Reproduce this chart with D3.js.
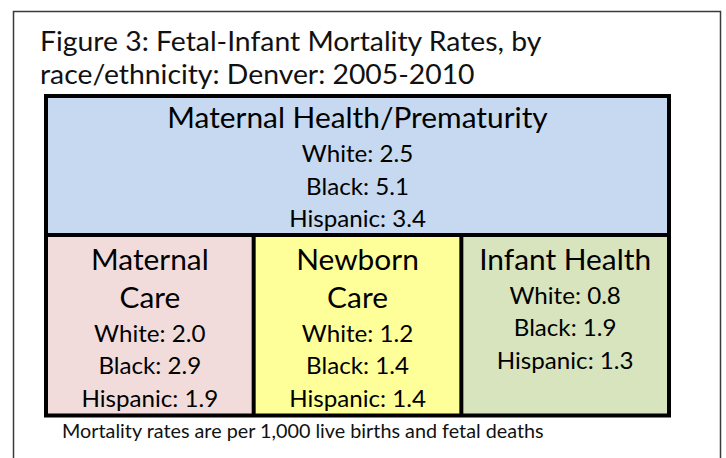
<!DOCTYPE html>
<html>
<head>
<meta charset="utf-8">
<script src="https://cdn.jsdelivr.net/npm/d3@7"></script>
<style>
  html, body { margin: 0; padding: 0; background: #fff; }
  svg { display: block; font-family: Lato, 'Open Sans', sans-serif; }
</style>
</head>
<body>
<svg class="chart"></svg>
<script>
const titleLines = ['Figure 3: Fetal-Infant Mortality Rates, by', 'race/ethnicity: Denver: 2005-2010'];
const footnote = 'Mortality rates are per 1,000 live births and fetal deaths';

const races = ['White', 'Black', 'Hispanic'];
const topCategory = ['Maternal Health/Prematurity'];
const topRates = [2.5, 5.1, 3.4];
const categories = ['Maternal Care', 'Newborn Care', 'Infant Health'];
const headerLines = [['Maternal', 'Care'], ['Newborn', 'Care'], ['Infant Health']];
const maternalCareRates = [2.0, 2.9, 1.9];
const newbornCareRates = [1.2, 1.4, 1.4];
const infantHealthRates = [0.8, 1.9, 1.3];
const colors = ['#C6D9F1', '#F2DCDB', '#FFFF99', '#D7E4BD'];

const width = 726;
const height = 458;
const box = { left: 46, right: 669, top: 96, mid: 235, bottom: 415.5 };
const formatRate = d3.format('.1f');

// calibri-ish text is a bit wider than lato, so stretch it sideways
const place = (px, py, sx) => `translate(${px},${py}) scale(${sx},1)`;

const svg = d3.select('.chart')
  .attr('width', width)
  .attr('height', height);

// page frame (runs off the bottom edge)
svg.append('rect')
  .attr('x', 13.5).attr('y', 11.5)
  .attr('width', 707).attr('height', 470)
  .attr('fill', '#fff')
  .attr('stroke', '#3a3a3a')
  .attr('stroke-width', 1.5);

svg.append('g')
  .selectAll('text')
  .data(titleLines)
  .join('text')
  .attr('transform', (d, i) => place(40, 51 + i * 32.5, 1.05))
  .attr('font-size', 27)
  .attr('fill', '#111')
  .text((d) => d);

const x = d3.scaleBand()
  .domain(categories)
  .range([box.left, box.right]);

// top cell
const topCell = svg.append('g');
topCell.append('rect')
  .attr('x', box.left).attr('y', box.top)
  .attr('width', box.right - box.left).attr('height', box.mid - box.top)
  .attr('fill', colors[0]);

topCell.selectAll('text.head')
  .data(topCategory)
  .join('text')
  .attr('class', 'head')
  .attr('transform', place((box.left + box.right) / 2, 128, 1.03))
  .attr('text-anchor', 'middle')
  .attr('font-size', 29)
  .text((d) => d);

topCell.selectAll('text.val')
  .data(topRates)
  .join('text')
  .attr('class', 'val')
  .attr('transform', (d, i) => place((box.left + box.right) / 2, 162 + i * 32.5, 1.05))
  .attr('text-anchor', 'middle')
  .attr('font-size', 23)
  .text((d, i) => `${races[i]}: ${formatRate(d)}`);

// bottom cells
const bottomRates = [maternalCareRates, newbornCareRates, infantHealthRates];
const cells = svg.append('g')
  .selectAll('g')
  .data(categories)
  .join('g')
  .attr('transform', (d) => `translate(${x(d)},0)`);

cells.append('rect')
  .attr('y', box.mid)
  .attr('width', x.bandwidth())
  .attr('height', box.bottom - box.mid)
  .attr('fill', (d, i) => colors[i + 1]);

cells.each(function (d, i) {
  const g = d3.select(this);
  const lines = headerLines[i];
  g.selectAll('text.head')
    .data(lines)
    .join('text')
    .attr('class', 'head')
    .attr('transform', (t, j) => place(x.bandwidth() / 2, 269.5 + j * 38, 1.03))
    .attr('text-anchor', 'middle')
    .attr('font-size', 29)
    .text((t) => t);
  const y0 = 269.5 + (lines.length - 1) * 38 + 34;
  g.selectAll('text.val')
    .data(bottomRates[i])
    .join('text')
    .attr('class', 'val')
    .attr('transform', (v, j) => place(x.bandwidth() / 2, y0 + j * 32.5, 1.05))
    .attr('text-anchor', 'middle')
    .attr('font-size', 23)
    .text((v, j) => `${races[j]}: ${formatRate(v)}`);
});

// borders
const borders = svg.append('g')
  .attr('stroke', '#000')
  .attr('stroke-width', 4)
  .attr('fill', 'none');

borders.append('rect')
  .attr('x', box.left).attr('y', box.top)
  .attr('width', box.right - box.left).attr('height', box.bottom - box.top);

borders.append('line')
  .attr('x1', box.left).attr('x2', box.right)
  .attr('y1', box.mid).attr('y2', box.mid);

borders.selectAll('line.col')
  .data(categories.slice(1))
  .join('line')
  .attr('class', 'col')
  .attr('x1', (d) => x(d)).attr('x2', (d) => x(d))
  .attr('y1', box.mid).attr('y2', box.bottom);

svg.append('text')
  .attr('transform', place(62, 438, 1.07))
  .attr('font-size', 18.5)
  .attr('fill', '#111')
  .text(footnote);
</script>
</body>
</html>
